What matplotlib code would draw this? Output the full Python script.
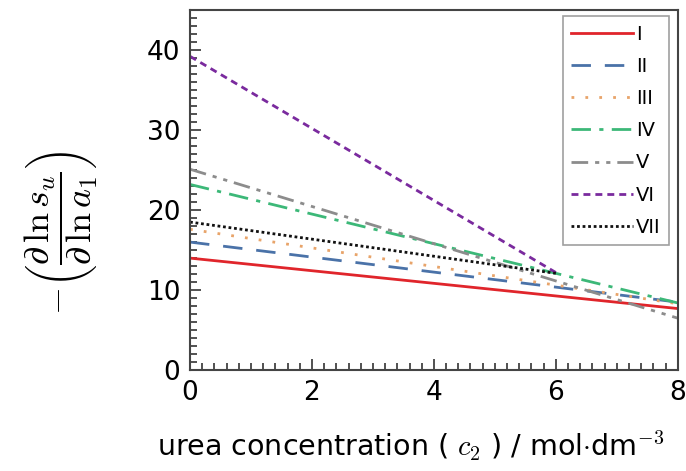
import matplotlib
matplotlib.use("Agg")
import matplotlib.pyplot as plt
from matplotlib.ticker import MultipleLocator

# urea concentration (mol/dm3) at the ends of each line
x_full = [0, 8]
x_short = [0, 6]

labels = ["I", "II", "III", "IV", "V", "VI", "VII"]
y_I = [14.0, 7.7]
y_II = [16.0, 8.5]
y_III = [17.6, 8.3]
y_IV = [23.2, 8.4]
y_V = [25.1, 6.5]
y_VI = [39.2, 12.2]
y_VII = [18.5, 12.1]

series = [
    (x_full, y_I, "#e0252b", "-"),
    (x_full, y_II, "#4a72a8", (0, (7, 5))),
    (x_full, y_III, "#e8a46a", (0, (1, 4))),
    (x_full, y_IV, "#3cb878", (0, (7, 3, 1.5, 3))),
    (x_full, y_V, "#8c8c8c", (0, (6, 2.5, 1.5, 2.5, 1.5, 2.5))),
    (x_short, y_VI, "#7a2a9e", (0, (2.5, 1.8))),
    (x_short, y_VII, "#111111", (0, (1, 1))),
]

plt.rcParams['mathtext.fontset'] = 'cm'

fig = plt.figure(figsize=(6.86, 4.71), dpi=100)
ax = fig.add_axes([0.277, 0.214, 0.711, 0.765])

for (xs, ys, c, ls), lab in zip(series, labels):
    ax.plot(xs, ys, color=c, linestyle=ls, linewidth=2, label=lab)

ax.set_xlim(0, 8)
ax.set_ylim(0, 45)
ax.xaxis.set_major_locator(MultipleLocator(2))
ax.xaxis.set_minor_locator(MultipleLocator(0.2))
ax.yaxis.set_major_locator(MultipleLocator(10))
ax.yaxis.set_minor_locator(MultipleLocator(1))
ax.tick_params(which='both', direction='in', top=False, right=False,
               color='#333333', width=1.2)
ax.tick_params(which='major', length=8, labelsize=19, pad=7)
ax.tick_params(which='minor', length=5)
for s in ax.spines.values():
    s.set_color('#444444')
    s.set_linewidth(1.5)

ax.set_xlabel(r"urea concentration ( $c_2$ ) / mol$\cdot$dm$^{-3}$",
              fontsize=20.5, labelpad=2)
ax.xaxis.set_label_coords(0.453, -0.165)
ax.set_ylabel(r"$-\left(\dfrac{\partial\,\ln s_u}{\partial\,\ln a_1}\right)$",
              fontsize=26)
ax.yaxis.set_label_coords(-0.185, 0.38)

leg = ax.legend(loc='upper right', fontsize=14, handlelength=3.2,
                labelspacing=0.68, fancybox=False, edgecolor='#888888',
                borderpad=0.42, handletextpad=0.15, borderaxespad=0,
                bbox_to_anchor=(0.982, 0.982))
leg.get_frame().set_linewidth(1.2)

fig.savefig("out.png", dpi=100)
